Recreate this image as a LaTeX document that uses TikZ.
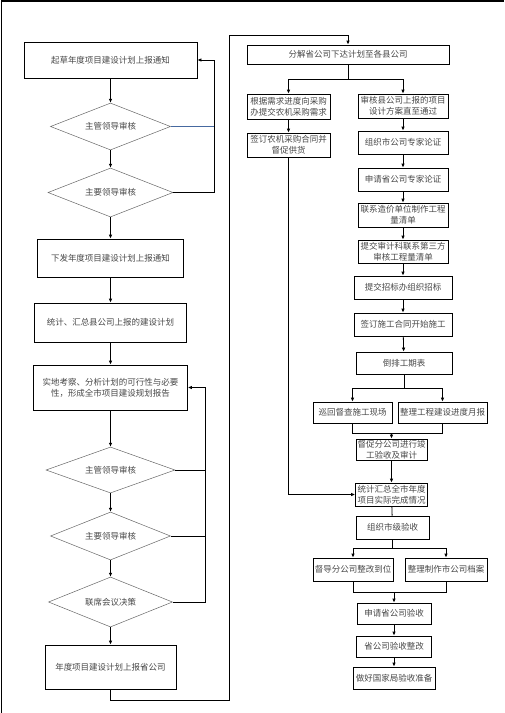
\documentclass[tikz,border=0pt]{standalone}
\usepackage{fontspec}
\newfontfamily\cjk{Noto Sans CJK SC}
\usetikzlibrary{shapes.geometric,arrows.meta}
\begin{document}
\begin{tikzpicture}[x=1pt,y=-1pt,
  txt/.style={font=\cjk\fontsize{8.5}{11}\selectfont, text=black!72, align=center, inner sep=0pt},
  bx/.style={txt, draw=black, line width=0.8pt, rectangle},
  dm/.style={txt, draw=black!60, line width=0.5pt, diamond, aspect=2.5},
  arr/.style={draw=black, line width=0.8pt, -{Latex[length=4pt,width=3.6pt]}},
  ln/.style={draw=black, line width=0.8pt}]
\useasboundingbox (0,0) rectangle (504,713);
\draw[line width=1.2pt] (1.5,713) -- (1.5,1) -- (504,1);
% left column
\node[bx, minimum width=173pt, minimum height=36pt] (b1) at (110.5,60) {起草年度项目建设计划上报通知};
\node[dm, minimum width=120pt, minimum height=47pt] (d1) at (110.5,126.5) {主管领导审核};
\node[dm, minimum width=125pt, minimum height=49pt] (d2) at (110.5,192.5) {主要领导审核};
\node[bx, minimum width=146pt, minimum height=38pt] (b2) at (110.5,258) {下发年度项目建设计划上报通知};
\node[bx, minimum width=152pt, minimum height=39pt] (b3) at (110.5,322.5) {统计、汇总县公司上报的建设计划};
\node[bx, minimum width=154pt, minimum height=45pt] (b4) at (110.5,387.5) {实地考察、分析计划的可行性与必要\\性，形成全市项目建设规划报告};
\node[dm, minimum width=129pt, minimum height=46pt] (d3) at (110.5,470) {主管领导审核};
\node[dm, minimum width=120pt, minimum height=48pt] (d4) at (110.5,536) {主要领导审核};
\node[dm, minimum width=124pt, minimum height=50pt] (d5) at (110.5,602) {联席会议决策};
\node[bx, minimum width=131pt, minimum height=44pt] (b5) at (110.5,667) {年度项目建设计划上报省公司};
\draw[arr] (b1) -- (d1);
\draw[arr] (d1) -- (d2);
\draw[arr] (d2) -- (b2);
\draw[arr] (b2) -- (b3);
\draw[arr] (b3) -- (b4);
\draw[arr] (b4) -- (d3);
\draw[arr] (d3) -- (d4);
\draw[arr] (d4) -- (d5);
\draw[arr] (d5) -- (b5);
\coordinate (fb1) at (214,60);
\draw[line width=0.7pt, draw={rgb,255:red,70;green,105;blue,160}] (d1.east) -- (d1.east -| fb1);
\draw[arr] (d2.east) -| (fb1) -- (b1.east);
\coordinate (fb2) at (205,387.5);
\draw[ln] (d3.east) -- (d3.east -| fb2);
\draw[ln] (d4.east) -- (d4.east -| fb2);
\draw[arr] (d5.east) -| (fb2) -- (b4.east);
% link to right column
\coordinate (l2) at (229,700);
\coordinate (l3) at (229,35);
% right column
\node[bx, minimum width=202pt, minimum height=19pt] (r0) at (348,54.5) {分解省公司下达计划至各县公司};
\draw[arr] (b5.south) |- (l2) -- (l3) -| (r0.north);
\node[bx, minimum width=83pt, minimum height=25pt] (rl1) at (288.5,106.5) {根据需求进度向采购\\办提交农机采购需求};
\node[bx, minimum width=83pt, minimum height=24pt] (rl2) at (288.5,145) {签订农机采购合同并\\督促供货};
\node[bx, minimum width=90pt, minimum height=24pt] (rr1) at (403,106) {审核县公司上报的项目\\设计方案直至通过};
\node[bx, minimum width=90pt, minimum height=23pt] (rr2) at (403,142.5) {组织市公司专家论证};
\node[bx, minimum width=90pt, minimum height=23pt] (rr3) at (403,179.5) {申请省公司专家论证};
\node[bx, minimum width=90pt, minimum height=24pt] (rr4) at (403,215) {联系造价单位制作工程\\量清单};
\node[bx, minimum width=90pt, minimum height=23pt] (rr5) at (403,251.5) {提交审计科联系第三方\\审核工程量清单};
\node[bx, minimum width=98pt, minimum height=23pt] (rr6) at (403,287.5) {提交招标办组织招标};
\node[bx, minimum width=98pt, minimum height=23pt] (rr7) at (403,324.5) {签订施工合同开始施工};
\node[bx, minimum width=96pt, minimum height=22pt] (rr8) at (404,363) {倒排工期表};
\node[bx, minimum width=79pt, minimum height=21pt] (rr9a) at (352.5,412.5) {巡回督查施工现场};
\node[bx, minimum width=89pt, minimum height=21pt] (rr9b) at (442.5,412.5) {整理工程建设进度月报};
\node[bx, minimum width=71pt, minimum height=21pt] (rr10) at (391.5,449.5) {督促分公司进行竣\\工验收及审计};
\node[bx, minimum width=72pt, minimum height=23pt] (rr11) at (391.5,494.5) {统计汇总全市年度\\项目实际完成情况};
\node[bx, minimum width=73pt, minimum height=23pt] (rr12) at (392.5,527.5) {组织市级验收};
\node[bx, minimum width=80pt, minimum height=23pt] (rr13a) at (353,569.5) {督导分公司整改到位};
\node[bx, minimum width=82pt, minimum height=23pt] (rr13b) at (446,569.5) {整理制作市公司档案};
\node[bx, minimum width=74pt, minimum height=21pt] (rr14) at (394,613.5) {申请省公司验收};
\node[bx, minimum width=75pt, minimum height=21pt] (rr15) at (394,646.5) {省公司验收整改};
\node[bx, minimum width=82pt, minimum height=22pt] (rr16) at (394,678) {做好国家局验收准备};
\coordinate (s0) at (348,79);
\draw[ln] (r0.south) -- (s0);
\draw[arr] (s0) -| (rl1.north);
\draw[arr] (s0) -| (rr1.north);
\draw[arr] (rl1) -- (rl2);
\draw[arr] (rl2.south) |- (rr11.west);
\draw[arr] (rr1) -- (rr2);
\draw[arr] (rr2) -- (rr3);
\draw[arr] (rr3) -- (rr4);
\draw[arr] (rr4) -- (rr5);
\draw[arr] (rr5) -- (rr6);
\draw[arr] (rr6) -- (rr7);
\draw[arr] (rr7) -- (rr8);
\coordinate (s1) at (404,388);
\draw[ln] (rr8.south) -- (s1);
\draw[arr] (s1) -| (rr9a.north);
\draw[arr] (s1) -| (rr9b.north);
\coordinate (j1) at (391.5,433);
\draw[ln] (rr9a.south) |- (j1);
\draw[ln] (rr9b.south) |- (j1);
\draw[arr] (j1) -- (rr10.north);
\draw[arr] (rr10) -- (rr11);
\draw[ln] (rr11) -- (rr12);
\coordinate (s2) at (392.5,548);
\draw[ln] (rr12.south) -- (s2);
\draw[arr] (s2) -| (rr13a.north);
\draw[arr] (s2) -| (rr13b.north);
\coordinate (j2) at (394,592);
\draw[ln] (rr13a.south) |- (j2);
\draw[ln] (rr13b.south) |- (j2);
\draw[arr] (j2) -- (rr14.north);
\draw[arr] (rr14) -- (rr15);
\draw[arr] (rr15) -- (rr16);
\end{tikzpicture}
\end{document}
